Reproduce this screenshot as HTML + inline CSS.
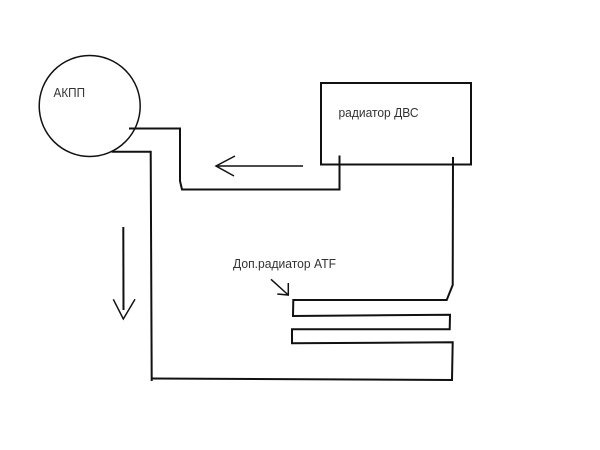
<!DOCTYPE html>
<html>
<head>
<meta charset="utf-8">
<style>
html,body{margin:0;padding:0;background:#fff;width:600px;height:450px;overflow:hidden}
svg{display:block;filter:blur(0.3px)}
text{font-family:"Liberation Sans",sans-serif;font-size:12.5px;fill:#333}
.l{fill:none;stroke:#111;stroke-width:2;stroke-linejoin:miter}
.t{fill:none;stroke:#111;stroke-width:1.5}
</style>
</head>
<body>
<svg width="600" height="450" viewBox="0 0 600 450" xmlns="http://www.w3.org/2000/svg">
<rect width="600" height="450" fill="#fff"/>
<circle class="t" cx="89.7" cy="106" r="50.5"/>
<rect class="l" x="321" y="83" width="150" height="81.5"/>
<polyline class="l" points="129,128.5 180,128.5 180,181 182,189.5 339.5,189.5 339.5,155.5"/>
<polyline class="l" points="453,157 452.7,285 446.7,300 293.3,300 293,316 450,314.7 449.7,329.3 292,329.3 292,343.3 452.7,342.3 452,380 152,378.5"/>
<polyline class="l" points="151.7,381 150.7,151.7 111.7,151.7"/>
<polyline class="t" points="303,166 216,166"/>
<polyline class="t" points="235,156 216,166 234,176"/>
<polyline class="l" points="123.3,227 123.5,310"/>
<polyline class="t" points="113.3,299.3 123.3,319 135,299.3"/>
<polyline class="t" points="271,279.3 288.3,295"/>
<polyline class="t" points="288.3,283 288.3,295 277.3,294"/>
<text x="53.5" y="97" textLength="31.5" lengthAdjust="spacingAndGlyphs">АКПП</text>
<text x="338.5" y="117" textLength="80" lengthAdjust="spacingAndGlyphs">радиатор ДВС</text>
<text x="233" y="268" textLength="103" lengthAdjust="spacingAndGlyphs">Доп.радиатор ATF</text>
</svg>
</body>
</html>
